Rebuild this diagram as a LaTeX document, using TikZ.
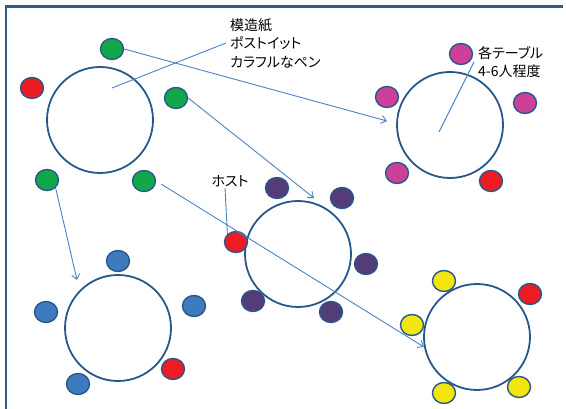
\documentclass[tikz,border=0pt]{standalone}
\usepackage{fontspec}
\newfontfamily\jpfont[RawFeature=+palt]{Noto Sans CJK JP}
\usepackage{tikz}
\usetikzlibrary{shapes.geometric,arrows.meta,positioning}
\definecolor{frameblue}{RGB}{44,92,140}
\definecolor{edgeblue}{RGB}{40,88,138}
\definecolor{lineblue}{RGB}{74,130,200}
\definecolor{chgreen}{RGB}{18,168,74}
\definecolor{chred}{RGB}{237,28,36}
\definecolor{chpink}{RGB}{204,64,153}
\definecolor{chpurple}{RGB}{84,60,120}
\definecolor{chblue}{RGB}{62,122,190}
\definecolor{chyellow}{RGB}{242,230,12}

\begin{document}
\begin{tikzpicture}[x=1pt, y=-1pt, font=\jpfont\fontsize{14}{18.5}\selectfont,
    tbl/.style={circle, draw=edgeblue, line width=1.8pt, minimum size=106pt, inner sep=0pt},
    seat/.style={ellipse, draw=edgeblue, fill=#1, line width=1.4pt, minimum width=23pt, minimum height=21pt, inner sep=0pt},
    pointer/.style={draw=lineblue, line width=0.9pt}]
   \useasboundingbox (0,0) rectangle (566,409);
   \draw[frameblue, line width=2.5pt] (6,409) -- (6,6.5) -- (563,6.5);
   \begin{scope}
    \node[tbl] (t1) at (100,120) {};
    \node[tbl] (t2) at (450,125) {};
    \node[tbl] (t3) at (298,254) {};
    \node[tbl] (t4) at (118,328) {};
    \node[tbl] (t5) at (477,337) {};
   \end{scope}
   \begin{scope}
    \node[seat=chgreen] (g1) at (112,49) {};
    \node[seat=chred] (r1) at (32,88) {};
    \node[seat=chgreen] (g2) at (176,98) {};
    \node[seat=chgreen] (g3) at (47,180) {};
    \node[seat=chgreen] (g4) at (144,181) {};
    \node[seat=chpink] (m1) at (461,54) {};
    \node[seat=chpink] (m2) at (387,97) {};
    \node[seat=chpink] (m3) at (525,103) {};
    \node[seat=chpink] (m4) at (397,173) {};
    \node[seat=chred] (r2) at (491,181) {};
    \node[seat=chpurple] (p1) at (277,188) {};
    \node[seat=chpurple] (p2) at (342,198) {};
    \node[seat=chred] (h) at (236,242) {};
    \node[seat=chpurple] (p3) at (366,264) {};
    \node[seat=chpurple] (p4) at (253,301) {};
    \node[seat=chpurple] (p5) at (331,312) {};
    \node[seat=chblue] (b1) at (118,261) {};
    \node[seat=chblue] (b2) at (46,312) {};
    \node[seat=chblue] (b3) at (194,306) {};
    \node[seat=chred] (r4) at (173,369) {};
    \node[seat=chblue] (b4) at (78,384) {};
    \node[seat=chyellow] (y1) at (444,281) {};
    \node[seat=chred] (r5) at (530,294) {};
    \node[seat=chyellow] (y2) at (412,325) {};
    \node[seat=chyellow] (y3) at (444,393) {};
    \node[seat=chyellow] (y4) at (519,387) {};
   \end{scope}
   \node[anchor=west, inner sep=4pt, align=left] (lbl1) at (226,43) {模造紙\\ポストイット\\カラフルなペン};
   \node[anchor=west, inner sep=4pt, align=left] (lbl2) at (474,62) {各テーブル\\4-6人程度};
   \node[inner sep=1pt] (lbl3) at (230,181) {ホスト};
   \coordinate (q1) at (112,88);
   \coordinate (q2) at (439,132);
   \coordinate (a1) at (387,121);
   \coordinate (a2) at (314,198);
   \coordinate (a3) at (77,280);
   \coordinate (a4) at (424,347);
   \draw[pointer] (q1) -- (lbl1.west);
   \draw[pointer] (q2) -- (lbl2.west);
   \draw[pointer] ([xshift=-5pt]lbl3.south) -- (h.north west);
   \begin{scope}[every edge/.style={draw=lineblue, line width=0.9pt, -{Straight Barb[length=5pt,width=8pt]}}]
    \draw (g1.east) edge (a1);
    \draw (g2.east) edge (a2);
    \draw (g3.south east) edge (a3);
    \draw (g4.east) edge[shorten <=6pt] (a4);
   \end{scope}
\end{tikzpicture}
\end{document}
